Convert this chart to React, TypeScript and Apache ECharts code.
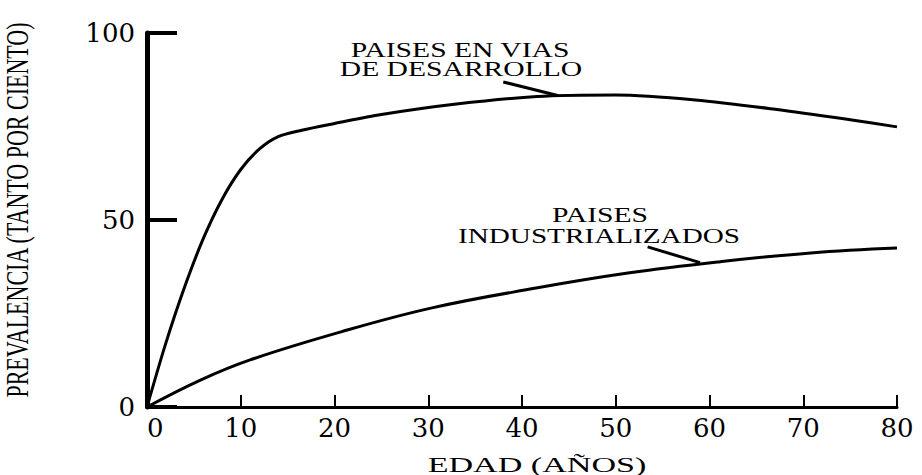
import React, { useEffect, useRef } from "react";
import * as echarts from "echarts";

// Edad (años) / prevalencia (%)
const developingAge = [0, 2, 4, 6, 8, 10, 12, 14, 16.5, 20, 25, 33, 41.6, 50, 58.5, 67, 75, 80];
const developingPrev = [0, 17, 32, 45, 55.5, 63.5, 69, 72.3, 74.0, 75.8, 78.2, 81.0, 83.0, 83.4, 82.1, 79.6, 76.8, 74.9];
const industrialAge = [0, 5.7, 11, 20.7, 30.4, 41.5, 51.3, 61, 70.8, 80];
const industrialPrev = [0, 7.2, 12.6, 20.1, 26.5, 31.8, 35.8, 38.8, 41.2, 42.5];

// leader lines (data coords)
const developingPointer = [[38.0, 86.9], [43.8, 83.3]];
const industrialPointer = [[53.4, 42.8], [59.0, 38.6]];

const developingLabel = ["PAISES EN VIAS", "DE DESARROLLO"];
const industrialLabel = ["PAISES", "INDUSTRIALIZADOS"];
const xAxisTitle = "EDAD (AÑOS)";
const yAxisTitle = "PREVALENCIA (TANTO POR CIENTO)";

const X_MIN = 0, X_MAX = 80, X_STEP = 10;
const Y_MIN = 0, Y_MAX = 100, Y_STEP = 50;

const SERIF = '"Liberation Serif", "Times New Roman", serif';
const TICK_FONT = '"DejaVu Serif", serif';

function zip(a: number[], b: number[]) {
  return a.map((v, i) => [v, b[i]]);
}

function pointer(p: number[][]) {
  return {
    silent: true,
    symbol: ["none", "none"],
    lineStyle: { color: "#000", width: 3, type: "solid" },
    label: { show: false },
    emphasis: { disabled: true },
    data: [[{ coord: p[0] }, { coord: p[1] }]],
  };
}

function txt(text: string, x: number, y: number, size: number, sx: number, extra: any = {}) {
  return {
    type: "text",
    x,
    y,
    scaleX: sx,
    silent: true,
    ...extra,
    style: {
      text,
      fill: "#000",
      font: `${size}px ${SERIF}`,
      align: "center",
      verticalAlign: "middle",
    },
  };
}

export default function App() {
  const ref = useRef<HTMLDivElement>(null);
  useEffect(() => {
    if (!ref.current) return;
    const chart = echarts.init(ref.current, null, { renderer: "svg" });
    chart.setOption({
      animation: false,
      backgroundColor: "#fff",
      grid: { left: 147, right: 25, top: 33, bottom: 68, containLabel: false },
      xAxis: {
        type: "value",
        min: X_MIN,
        max: X_MAX,
        interval: X_STEP,
        axisLine: { show: true, lineStyle: { color: "#000", width: 3 } },
        axisTick: { show: true, inside: true, length: 12, lineStyle: { color: "#000", width: 2 } },
        axisLabel: {
          color: "#000",
          fontFamily: TICK_FONT,
          fontSize: 26,
          margin: 8,
          alignMinLabel: "left",
        },
        splitLine: { show: false },
      },
      yAxis: {
        type: "value",
        min: Y_MIN,
        max: Y_MAX,
        interval: Y_STEP,
        axisLine: { show: true, lineStyle: { color: "#000", width: 5 } },
        axisTick: { show: true, inside: true, length: 30, lineStyle: { color: "#000", width: 4 } },
        axisLabel: { color: "#000", fontFamily: TICK_FONT, fontSize: 26, margin: 12 },
        splitLine: { show: false },
      },
      series: [
        {
          type: "line",
          data: zip(developingAge, developingPrev),
          smooth: 0.3,
          showSymbol: false,
          lineStyle: { color: "#000", width: 3 },
          markLine: pointer(developingPointer),
          z: 3,
        },
        {
          type: "line",
          data: zip(industrialAge, industrialPrev),
          smooth: 0.4,
          showSymbol: false,
          lineStyle: { color: "#000", width: 3 },
          markLine: pointer(industrialPointer),
          z: 3,
        },
      ],
      graphic: [
        txt(developingLabel[0], 460, 50, 20, 1.48),
        txt(developingLabel[1], 461, 69, 20, 1.48),
        txt(industrialLabel[0], 600, 215, 20, 1.48),
        txt(industrialLabel[1], 599, 236, 20, 1.46),
        txt(xAxisTitle, 537, 464, 22, 1.55),
        { ...txt(yAxisTitle, 18, 210, 22, 1), rotation: Math.PI / 2, scaleY: 1.45 },
      ],
    });
    return () => chart.dispose();
  }, []);
  return (
    <div
      ref={ref}
      style={{ position: "fixed", left: 0, top: 0, width: 922, height: 475, background: "#fff" }}
    />
  );
}
